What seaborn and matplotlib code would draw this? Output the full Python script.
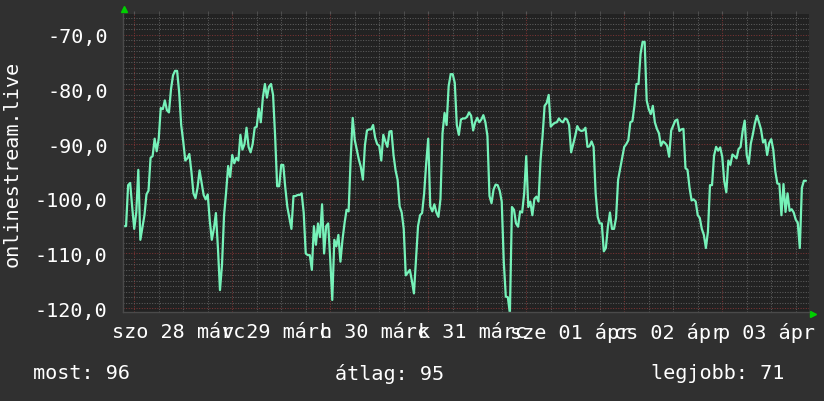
import pandas as pd
import numpy as np
import matplotlib
matplotlib.use('Agg')
import matplotlib.pyplot as plt
import matplotlib.dates as mdates
from matplotlib.ticker import MultipleLocator, FuncFormatter, NullFormatter
from matplotlib.transforms import ScaledTranslation
import seaborn as sns

# signal level (dBm), 30 minute samples starting fri 27 march 21:30
signal_part1 = [
    -105, -105, -97.5, -97.1, -101.5, -105.5, -102.5, -94.7, -107.5, -105.2,
    -103, -99.2, -98.5, -92.5, -92.2, -89, -91.3, -89, -83.4, -83.6,
    -82, -83.8, -84.2, -80, -77.4, -76.6, -76.6, -80.5, -86.5, -89.5,
    -93, -92.6, -91.8, -95, -99, -99.9, -98, -94.8, -97, -99.3,
    -100.1, -99.2, -104, -107.5, -105.5, -102.6, -109, -116.7, -112, -103,
    -98.8, -94, -96, -92, -93.5, -92.5, -93, -88.3, -91, -90,
    -87, -90.5, -91.5, -90, -87, -86.8, -83.5, -86, -81.5, -79,
    -81.5, -79.5, -79, -81, -88.5, -97.7, -97.7, -93.8, -93.8, -98,
    -101.5, -103.5, -105.5, -99.5, -99.5, -99.3, -99.3,
]
signal_part2 = [
    -99, -102.5, -110, -110.3, -110.3, -113, -105, -108.4, -104.5, -107,
    -101, -110, -105, -104.5, -111, -118.5, -107.5, -108.7, -106.6, -111.5,
    -107.5, -104.5, -102, -102.3, -92.8, -85.2, -89.2, -91, -92.8, -94.2,
    -96.5, -90.2, -87.5, -87.3, -87.3, -86.5, -88.8, -90, -90.3, -93,
    -88.3, -89.5, -90.5, -87.7, -87.6, -92, -94.8, -96.5, -101.4, -102.5,
    -105.5, -114, -113.5, -113, -115, -117.3, -111, -105, -103, -102.6,
    -99, -93.5, -89, -101.4, -102.3, -101, -102.5, -103.3, -100, -88,
    -84.3, -86.5, -79.4, -77.2, -77.2, -78.8, -86.5, -88.3, -85.5, -85.3,
    -85.3, -85, -84.2, -84.8,
]
signal_part3 = [
    -87.5, -86, -85.2, -86, -85.5, -84.7, -86, -88.5, -99.5, -100.8,
    -98.3, -97.4, -97.5, -98.5, -100.5, -111.5, -117.9, -118, -121, -101.5,
    -102, -104.5, -105.1, -102.3, -102.5, -99, -92.2, -101.5, -100.5, -103,
    -100, -99.6, -100.5, -93, -88.5, -83, -82.5, -81, -86.8, -86.4,
    -86.1, -86, -85.3, -85.8, -86, -85.3, -85.5, -86.5, -91.5, -90,
    -88.5, -86.7, -87.4, -87.6, -87.5, -87, -90.5, -90.4, -89.5, -90.5,
    -99, -103.3, -104.5, -104.5, -109.6, -109, -105.1, -102.5, -105.5, -105.5,
    -103.5, -96.5, -94.5, -92.6, -90.5, -90, -89.3, -86, -85.8, -83,
    -79,
]
signal_part4 = [
    -79, -73.5, -71.3, -71.3, -82, -83.6, -84.5, -83, -86, -87.2,
    -88, -90.3, -89.5, -89.8, -90.3, -92.3, -87.5, -86.6, -85.7, -85.5,
    -87.6, -87.3, -87.2, -94.4, -94.7, -98, -100.3, -100.1, -100.5, -103,
    -103.5, -105.5, -106.6, -109, -106, -97.5, -97.5, -92.1, -90.5, -91.2,
    -90.6, -92.3, -96.8, -98.8, -93, -93.8, -91.9, -92.2, -92.6, -90.9,
    -90.5, -87.6, -85.7, -92, -93.6, -89.9, -88.2, -86.2, -84.8, -86,
    -87.3, -89.7, -89.2, -92, -89.8, -89.1, -91, -95, -97.2, -97.3,
    -103, -97.3, -102.4, -99, -102.2, -101.9, -102.5, -103.8, -104.4, -109,
    -98, -96.7, -96.7,
]

start_time = '2020-03-27 21:30'
first_label_day = pd.Timestamp('2020-03-28')
day_labels = ['szo 28 márc', 'v 29 márc', 'h 30 márc', 'k 31 márc',
              'sze 01 ápr', 'cs 02 ápr', 'p 03 ápr']
source_name = 'onlinestream.live'
summary_texts = ['most: 96', 'átlag: 95', 'legjobb: 71']

values = signal_part1 + signal_part2 + signal_part3 + signal_part4
df = pd.DataFrame({
    'time': pd.date_range(start_time, periods=len(values), freq='30min'),
    'signal': values,
})

sns.set_style('dark')
plt.rcParams['font.family'] = ['DejaVu Sans Mono', 'DejaVu Sans']

outer_bg = '#303030'
plot_bg = '#222222'
text_col = '#ffffff'
minor_grid = '#5c5c5c'
major_grid = '#7a3434'

fig = plt.figure(figsize=(8.24, 4.02), dpi=100, facecolor=outer_bg)
ax = fig.add_axes([123 / 824, 89 / 402, 686 / 824, 298 / 402])
ax.set_facecolor(plot_bg)

sns.lineplot(data=df, x='time', y='signal', ax=ax, color='#76f2b9', linewidth=1.6)

ax.set_xlim(pd.Timestamp('2020-03-27 21:15'), pd.Timestamp('2020-04-03 21:15'))
ax.set_ylim(-120.7, -66.2)

# y axis: red line each 10, gray each 1
ax.yaxis.set_major_locator(MultipleLocator(10))
ax.yaxis.set_minor_locator(MultipleLocator(1))
ax.yaxis.set_major_formatter(FuncFormatter(lambda v, p: f'{v:.1f}'.replace('.', ',')))

# x axis: red line at midnight, gray every 6h, label at noon
ax.xaxis.set_major_locator(mdates.DayLocator())
ax.xaxis.set_minor_locator(mdates.HourLocator(byhour=[6, 12, 18]))
ax.xaxis.set_major_formatter(NullFormatter())


def day_label(x, pos):
    d = mdates.num2date(x).replace(tzinfo=None)
    if d.hour != 12:
        return ''
    idx = (pd.Timestamp(d).normalize() - first_label_day).days
    if 0 <= idx < len(day_labels):
        return day_labels[idx]
    return ''


ax.xaxis.set_minor_formatter(FuncFormatter(day_label))

ax.grid(which='minor', color=minor_grid, linestyle=(0, (1, 1.5)), linewidth=0.75)
ax.grid(which='major', color=major_grid, linestyle=(0, (1, 1.5)), linewidth=0.75)
ax.set_axisbelow(True)

ax.tick_params(axis='y', which='major', labelsize=14.5, labelcolor=text_col, pad=9,
               length=2, color='#555555', direction='out')
ax.tick_params(axis='y', which='minor', length=2, color='#555555', direction='out')
ax.tick_params(axis='x', which='both', length=2, color='#555555', direction='out', top=True)
ax.tick_params(axis='x', which='minor', labelsize=14.5, labelcolor=text_col, pad=5)

ax.set_xlabel('')
ax.set_ylabel('')
for side in ['top', 'right']:
    ax.spines[side].set_visible(False)
for side in ['left', 'bottom']:
    ax.spines[side].set_color('#4a4a4a')
    ax.spines[side].set_linewidth(1)

# green axis arrows
ax.plot([0.002], [1.018], marker='^', color='#00d000', markersize=5,
        transform=ax.transAxes, clip_on=False)
ax.plot([1.006], [-0.006], marker='>', color='#00d000', markersize=5,
        transform=ax.transAxes, clip_on=False)

fig.text(12 / 824, 1 - 164 / 402, source_name, rotation=90, color=text_col,
         fontsize=14.5, ha='center', va='center')

summary_x = [33 / 824, 335 / 824, 651 / 824]
for xpos, txt in zip(summary_x, summary_texts):
    fig.text(xpos, 1 - 374 / 402, txt, color=text_col, fontsize=14.5,
             ha='left', va='center')

# day labels sit a few pixels left of noon in the original
fig.canvas.draw()
shift = ScaledTranslation(-5 / 100, 0, fig.dpi_scale_trans)
for t in ax.xaxis.get_minor_ticks():
    t.label1.set_transform(t.label1.get_transform() + shift)

fig.savefig('out.png', dpi=100, facecolor=outer_bg)
plt.close(fig)
